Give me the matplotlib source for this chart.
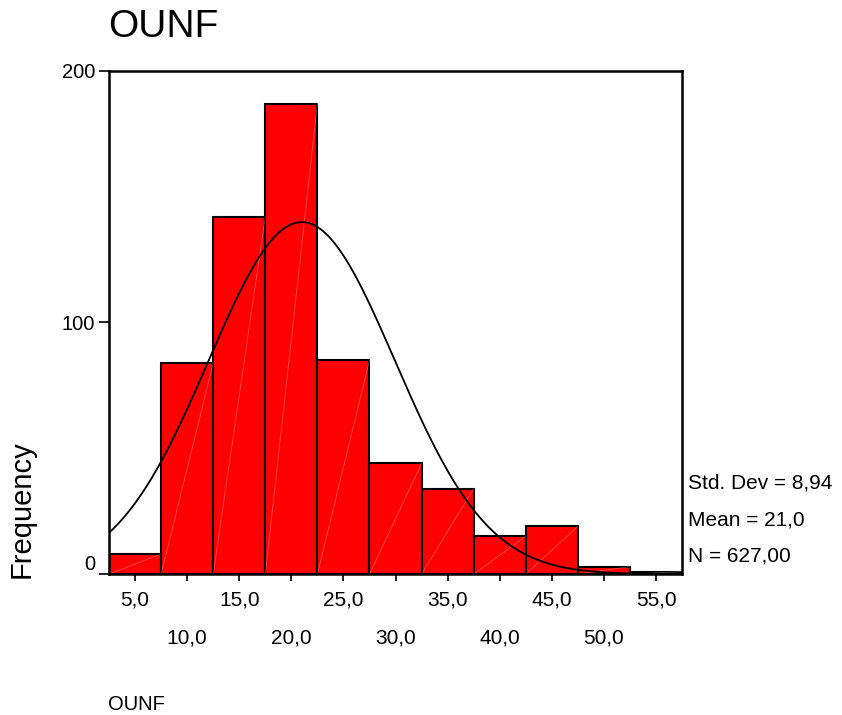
import numpy as np
import matplotlib
matplotlib.use('Agg')
from matplotlib import pyplot as plt

# histogram of OUNF (bin centres, width 5)
bin_centers = [5, 10, 15, 20, 25, 30, 35, 40, 45, 50, 55]
counts = [8, 84, 142, 187, 85, 44, 34, 15, 19, 3, 1]
bin_width = 5
std_dev = 8.94
mean = 21.0
n_total = 627
odd_ticks = [5, 15, 25, 35, 45, 55]
even_ticks = [10, 20, 30, 40, 50]
y_ticks = [0, 100, 200]

plt.rcParams['font.family'] = ['Liberation Sans', 'DejaVu Sans']

fig = plt.figure(figsize=(8.42, 7.15), dpi=100)
ax = fig.add_axes([0.1295, 0.197, 0.6805, 0.704])

ax.bar(bin_centers, counts, width=bin_width, color='#ff0000',
       edgecolor='black', linewidth=1.5, zorder=2)

# faint diagonal streaks across each bar, like the SPSS rendering
for c, h in zip(bin_centers, counts):
    ax.plot([c - bin_width / 2, c + bin_width / 2], [0, h], color='white',
            alpha=0.3, linewidth=0.6, zorder=2.5)

# fitted normal curve from the summary statistics
xs = np.linspace(2.5, 57.5, 400)
ys = n_total * bin_width / (std_dev * np.sqrt(2 * np.pi)) * np.exp(-0.5 * ((xs - mean) / std_dev) ** 2)
ax.plot(xs, ys, color='black', linewidth=1.3, zorder=3)

ax.set_xlim(2.5, 57.5)
ax.set_ylim(0, 200)

ax.set_xticks(odd_ticks)
ax.set_xticklabels([f'{v:.1f}'.replace('.', ',') for v in odd_ticks])
ax.set_xticks(even_ticks, minor=True)
ax.set_xticklabels([f'{v:.1f}'.replace('.', ',') for v in even_ticks], minor=True)
ax.tick_params(axis='x', which='both', direction='out', length=5, width=1.2,
               labelsize=15, pad=7)
ax.tick_params(axis='x', which='minor', pad=34)

ax.set_yticks(y_ticks)
ax.set_yticklabels([str(v) for v in y_ticks])
ax.tick_params(axis='y', direction='out', length=7, width=1.2, labelsize=14.5, pad=3)
ax.get_yticklabels()[0].set_va('bottom')

for sp in ax.spines.values():
    sp.set_linewidth(1.8)

fig.text(108 / 842, 1 - 27 / 715, 'OUNF', fontsize=28, ha='left', va='center')
fig.text(22 / 842, 1 - 509 / 715, 'Frequency', fontsize=21, rotation=90,
         ha='center', va='center')
fig.text(108 / 842, 1 - 704 / 715, 'OUNF', fontsize=14.5, ha='left', va='center')

stats = [f'Std. Dev = {std_dev:.2f}'.replace('.', ',').replace('Std, ', 'Std. '),
         f'Mean = {mean:.1f}'.replace('.', ','),
         f'N = {n_total:.2f}'.replace('.', ',')]
for label, ypx in zip(stats, [483, 520, 556]):
    fig.text(688 / 842, 1 - ypx / 715, label, fontsize=15, ha='left', va='center')

fig.savefig('out.png', dpi=100)
